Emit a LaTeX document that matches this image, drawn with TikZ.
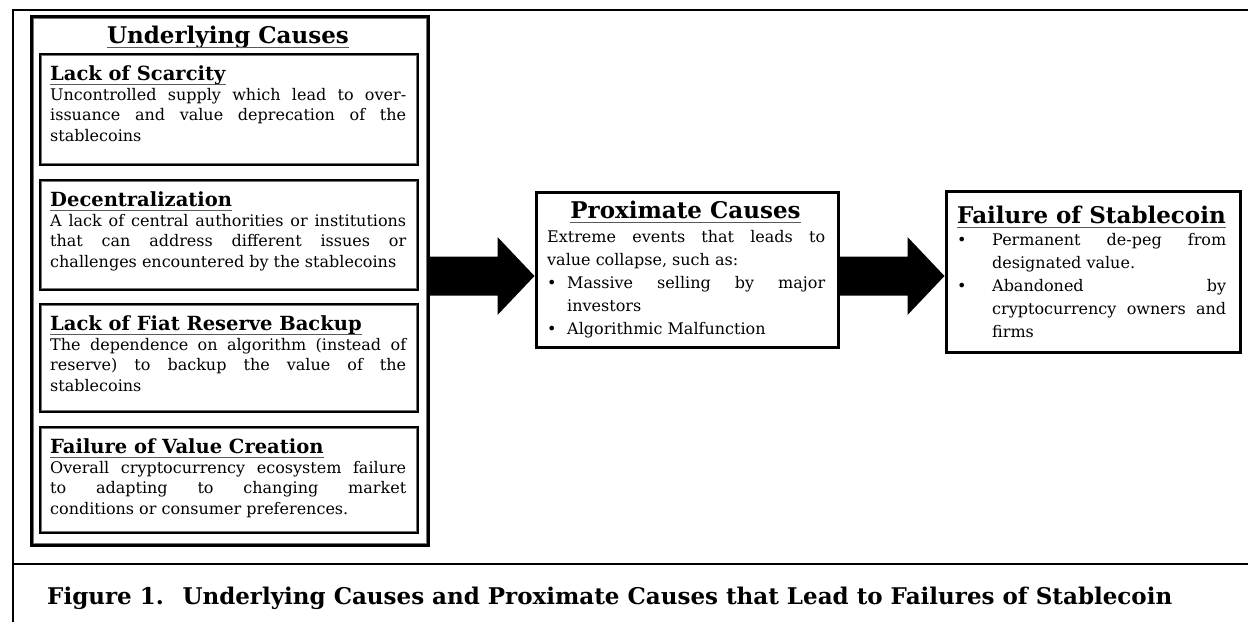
\documentclass[tikz,border=0pt]{standalone}
\usepackage{fontspec}
\setmainfont{DejaVu Serif}
\usetikzlibrary{calc}
\newcommand\ttlfont{\fontsize{23}{27}\selectfont\bfseries}
\newcommand\subfont{\fontsize{19.5}{23}\selectfont\bfseries}
\newcommand\bodyfontL{\fontsize{16}{20.5}\selectfont}
\newcommand\bodyfontR{\fontsize{16}{23}\selectfont}
\newcommand\capfont{\fontsize{23}{27}\selectfont\bfseries}
\tikzset{
  frameline/.style={line width=2pt,draw=black},
  heavybox/.style={draw=black,line width=3pt,fill=white,inner sep=0pt,anchor=north west},
  subbox/.style={draw=black,line width=2pt,inner sep=0pt,anchor=north west},
  innerline/.style={draw=black!55,line width=0.8pt},
  ttl/.style={inner sep=0pt,anchor=base,font=\ttlfont},
  ttlw/.style={inner sep=0pt,anchor=base west,font=\ttlfont},
  subttl/.style={inner sep=0pt,anchor=base west,font=\subfont},
  bodytxt/.style={inner sep=0pt,anchor=base west},
  uline/.style={draw=black!65,line width=1pt},
  blockarrow/.style={fill=black},
}
\begin{document}
\begin{tikzpicture}[x=1pt,y=-1pt]
\useasboundingbox[fill=white] (0,0) rectangle (1248,622);
% outer frame
\draw[frameline] (12.5,622) -- (12.5,10) -- (1248,10);
\draw[frameline] (12.5,564) -- (1248,564);
% underlying causes box
\node[heavybox,minimum width=397pt,minimum height=529pt] (under) at (29.5,14.5) {};
\draw[innerline] ([shift={(3.5,3.5)}]under.north west) rectangle ([shift={(-3.5,-3.5)}]under.south east);
\node[ttl] (ut) at (228,43) {Underlying Causes};
\draw[uline] ($(ut.base west)+(0,4.5)$) -- ($(ut.base east)+(0,4.5)$);
% sub boxes
\node[subbox,minimum width=378pt,minimum height=111pt] (s1) at (39,53) {};
\node[subbox,minimum width=378pt,minimum height=110pt] (s2) at (39,179) {};
\node[subbox,minimum width=378pt,minimum height=108pt] (s3) at (39,303) {};
\node[subbox,minimum width=378pt,minimum height=106pt] (s4) at (39,426) {};
\foreach \s in {s1,s2,s3,s4}{
  \draw[innerline,line width=0.6pt] ([shift={(2.5,2.5)}]\s.north west) rectangle ([shift={(-2.5,-2.5)}]\s.south east);
}
\node[subttl] (t1) at (50,80) {Lack of Scarcity};
\node[bodytxt] (b1) at (50,100) {\parbox[t]{356pt}{\bodyfontL Uncontrolled supply which lead to over-\linebreak issuance and value deprecation of the\linebreak stablecoins}};
\node[subttl] (t2) at (50,206) {Decentralization};
\node[bodytxt] (b2) at (50,226) {\parbox[t]{356pt}{\bodyfontL A lack of central authorities or institutions\linebreak that can address different issues or\linebreak challenges encountered by the stablecoins}};
\node[subttl] (t3) at (50,330) {Lack of Fiat Reserve Backup};
\node[bodytxt] (b3) at (50,350) {\parbox[t]{356pt}{\bodyfontL The dependence on algorithm (instead of\linebreak reserve) to backup the value of the\linebreak stablecoins}};
\node[subttl] (t4) at (50,453) {Failure of Value Creation};
\node[bodytxt] (b4) at (50,473) {\parbox[t]{356pt}{\bodyfontL Overall cryptocurrency ecosystem failure\linebreak to adapting to changing market\linebreak conditions or consumer preferences.}};
\foreach \t in {t1,t2,t3,t4}{
  \draw[uline] ($(\t.base west)+(0,4)$) -- ($(\t.base east)+(0,4)$);
}
% proximate causes
\node[heavybox,minimum width=302pt,minimum height=155pt] (prox) at (534.5,190.5) {};
\node[ttl] (pt) at (685.5,218) {Proximate Causes};
\draw[uline] ($(pt.base west)+(0,4.5)$) -- ($(pt.base east)+(0,4.5)$);
\node[bodytxt] (pb) at (547,242) {\parbox[t]{278pt}{\bodyfontR Extreme events that leads to\linebreak value collapse, such as:\par
\hangindent=20pt\hangafter=1\noindent\makebox[20pt][l]{\textbullet}Massive selling by major\linebreak investors\par
\hangindent=20pt\hangafter=1\noindent\makebox[20pt][l]{\textbullet}Algorithmic Malfunction}};
% failure of stablecoin
\node[heavybox,minimum width=294pt,minimum height=161pt] (fail) at (944.5,189.5) {};
\node[ttlw] (ft) at (957,223) {Failure of Stablecoin};
\draw[uline] ($(ft.base west)+(0,4.5)$) -- ($(ft.base east)+(0,4.5)$);
\node[bodytxt] (fb) at (957,245) {\parbox[t]{269pt}{\bodyfontR
\hangindent=35pt\hangafter=1\noindent\makebox[35pt][l]{\textbullet}Permanent de-peg from\linebreak designated value.\par
\hangindent=35pt\hangafter=1\noindent\makebox[35pt][l]{\textbullet}Abandoned by\linebreak cryptocurrency owners and\linebreak firms}};
% block arrows
\coordinate (ay) at (0,276);
\fill[blockarrow] ($(under.east |- ay)+(0,-19.5)$) -- ($(prox.west |- ay)+(-37,-19.5)$) -- ($(prox.west |- ay)+(-37,-39)$) -- (prox.west |- ay) -- ($(prox.west |- ay)+(-37,39)$) -- ($(prox.west |- ay)+(-37,19.5)$) -- ($(under.east |- ay)+(0,19.5)$) -- cycle;
\fill[blockarrow] ($(prox.east |- ay)+(0,-19.5)$) -- ($(fail.west |- ay)+(-37,-19.5)$) -- ($(fail.west |- ay)+(-37,-39)$) -- (fail.west |- ay) -- ($(fail.west |- ay)+(-37,39)$) -- ($(fail.west |- ay)+(-37,19.5)$) -- ($(prox.east |- ay)+(0,19.5)$) -- cycle;
% caption
\node[inner sep=0pt,anchor=base west,font=\capfont] (cap) at (47,604) {Figure 1.~ Underlying Causes and Proximate Causes that Lead to Failures of Stablecoin};
\end{tikzpicture}
\end{document}
